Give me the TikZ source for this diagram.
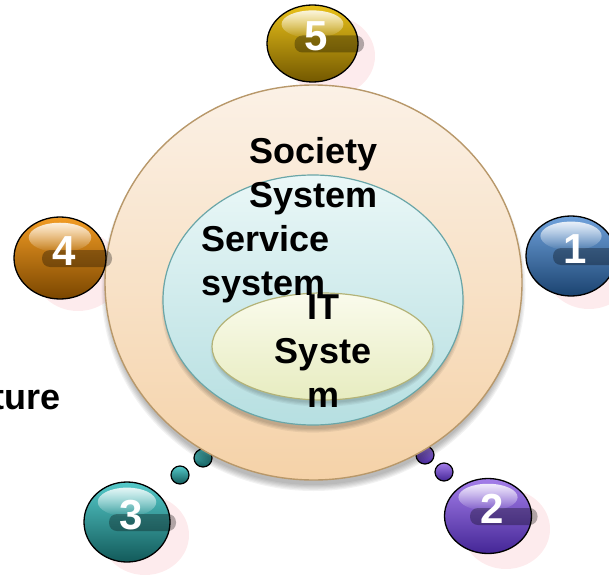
\documentclass[tikz,border=0pt]{standalone}
\usepackage{fontspec}
\setmainfont{Liberation Sans}
\usetikzlibrary{fadings,shapes.geometric}
\definecolor{socTop}{HTML}{FBF1E6}
\definecolor{socBot}{HTML}{F5D2A8}
\definecolor{socLine}{HTML}{B8986A}
\definecolor{srvTop}{HTML}{EAF7F7}
\definecolor{srvBot}{HTML}{B6DFE1}
\definecolor{srvLine}{HTML}{6AA6A8}
\definecolor{itTop}{HTML}{FAFBEC}
\definecolor{itBot}{HTML}{E7ECC0}
\definecolor{itLine}{HTML}{B3B378}
\definecolor{pinkSh}{HTML}{FDE6E8}
\definecolor{yA}{HTML}{EAC21A}\definecolor{yB}{HTML}{C49A00}\definecolor{yC}{HTML}{735800}
\definecolor{bA}{HTML}{6FA2DC}\definecolor{bB}{HTML}{3A70B0}\definecolor{bC}{HTML}{1B4370}
\definecolor{oA}{HTML}{F29C24}\definecolor{oB}{HTML}{D07800}\definecolor{oC}{HTML}{7A4600}
\definecolor{tA}{HTML}{55CACA}\definecolor{tB}{HTML}{22A0A0}\definecolor{tC}{HTML}{125A5A}
\definecolor{pA}{HTML}{A47EEA}\definecolor{pB}{HTML}{7450C8}\definecolor{pC}{HTML}{442696}
\tikzfading[name=hlfade, top color=transparent!15, bottom color=transparent!100]
\newcommand\myball[9]{% name, cx, cy, rx, ry, light, mid, dark, number
  \node[ballnode, minimum width=2*#4, minimum height=2*#5, top color=#6, middle color=#7, bottom color=#8] (#1) at (#2,#3) {};
  \fill[white, path fading=hlfade] (#2,#3-#5*0.5) ellipse [x radius=#4*0.68, y radius=#5*0.36];
  \fill[black, opacity=0.3, rounded corners=8] (#2-18,#3-8) rectangle (#2+#4+6,#3+9);
  \node[numtxt] (#1n) at ([xshift=4pt,yshift=7pt]#1.center) {#9};
}
\newcommand\myshadow[4]{\fill[pinkSh, opacity=0.8] (#1+18,#2+13) ellipse [x radius=#3, y radius=#4];}
\begin{document}
\begin{tikzpicture}[x=1pt,y=-1pt,
  ballnode/.style={ellipse, draw=black, line width=1.3pt, inner sep=0pt},
  numtxt/.style={text=white, font=\fontsize{42}{42}\selectfont\bfseries, inner sep=0pt},
  lbl/.style={font=\fontsize{36}{44}\selectfont\bfseries, inner sep=0pt, text=black},
  dot/.style={circle, draw=black, line width=1.2pt, minimum size=18pt, inner sep=0pt}]
\useasboundingbox (0,0) rectangle (609,580);
% pink shadows
\myshadow{313}{43}{44}{40}
\myshadow{571}{256}{44}{40}
\myshadow{60}{258}{44}{40}
\myshadow{127}{522}{44}{40}
\myshadow{488}{516}{44}{40}
% small dots
\node[dot, top color=tA, bottom color=tC] (td2) at (203,458) {};
\node[dot, top color=tA, bottom color=tC] (td1) at (180,475) {};
\node[dot, top color=pA, bottom color=pC] (pd2) at (425,455) {};
\node[dot, top color=pA, bottom color=pC] (pd1) at (444,472) {};
% big circle shadow
\foreach \i in {0,...,5}{
  \fill[black, opacity=0.05] (313.5,289) ellipse [x radius=206+\i*1.2, y radius=196+\i*1.2];
}
\node[ellipse, minimum width=417pt, minimum height=395pt, inner sep=0pt, draw=socLine, line width=1.4pt, top color=socTop, bottom color=socBot] (soc) at (313.5,282.5) {};
\foreach \i in {0,...,3}{
  \fill[black, opacity=0.06] (313,305) ellipse [x radius=148+\i*1.2, y radius=124+\i*1.2];
}
\node[ellipse, minimum width=300pt, minimum height=250pt, inner sep=0pt, draw=srvLine, line width=1.2pt, top color=srvTop, bottom color=srvBot] (srv) at (313,300) {};
\foreach \i in {0,...,3}{
  \fill[black, opacity=0.05] (323,350) ellipse [x radius=109+\i*1.2, y radius=53+\i*1.2];
}
\node[ellipse, minimum width=221pt, minimum height=107pt, inner sep=0pt, draw=itLine, line width=1.2pt, top color=itTop, bottom color=itBot] (it) at (322.5,346.5) {};
% labels
\node[lbl, align=left, anchor=west] (soct) at (249,176) {Society\\System};
\node[lbl, align=left, anchor=west] (srvt) at (201,264) {Service\\system};
\node[lbl, align=center] (itt) at (323,351) {IT\\Syste\\m};
\node[lbl, anchor=base east] (ture) at (61,409) {ture};
% balls
\myball{b5}{312.5}{43.5}{45.5}{38.5}{yA}{yB}{yC}{5}
\myball{b1}{571}{256}{45}{40}{bA}{bB}{bC}{1}
\myball{b4}{60}{258}{46}{41}{oA}{oB}{oC}{4}
\myball{b3}{127}{522}{43}{40}{tA}{tB}{tC}{3}
\myball{b2}{488}{516}{43.5}{37.5}{pA}{pB}{pC}{2}
\end{tikzpicture}
\end{document}
